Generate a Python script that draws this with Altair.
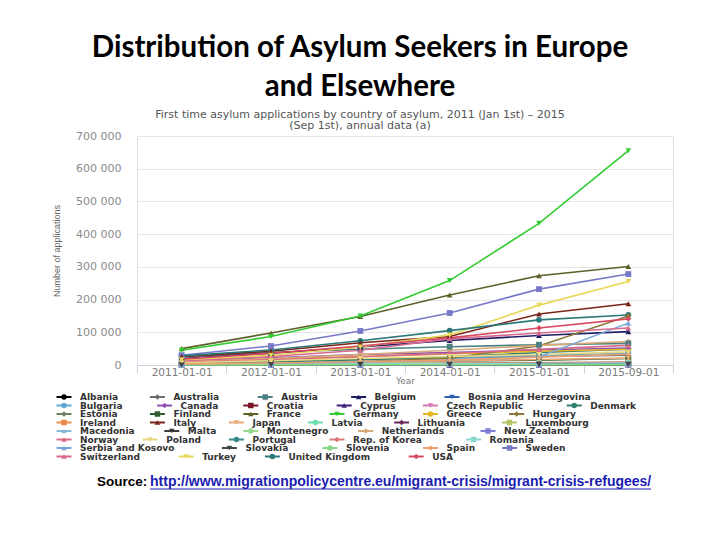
import altair as alt
import pandas as pd

dates = ["2011-01-01", "2012-01-01", "2013-01-01", "2014-01-01", "2015-01-01", "2015-09-01"]

countries = [
    "Albania", "Australia", "Austria", "Belgium", "Bosnia and Herzegovina",
    "Bulgaria", "Canada", "Croatia", "Cyprus", "Czech Republic", "Denmark",
    "Estonia", "Finland", "France", "Germany", "Greece", "Hungary",
    "Ireland", "Italy", "Japan", "Latvia", "Lithuania", "Luxembourg",
    "Macedonia", "Malta", "Montenegro", "Netherlands", "New Zealand",
    "Norway", "Poland", "Portugal", "Rep. of Korea", "Romania",
    "Serbia and Kosovo", "Slovakia", "Slovenia", "Spain", "Sweden",
    "Switzerland", "Turkey", "United Kingdom", "USA",
]

# legend rows as laid out in the reference
legend_rows = [
    ["Albania", "Australia", "Austria", "Belgium", "Bosnia and Herzegovina"],
    ["Bulgaria", "Canada", "Croatia", "Cyprus", "Czech Republic", "Denmark"],
    ["Estonia", "Finland", "France", "Germany", "Greece", "Hungary"],
    ["Ireland", "Italy", "Japan", "Latvia", "Lithuania", "Luxembourg"],
    ["Macedonia", "Malta", "Montenegro", "Netherlands", "New Zealand"],
    ["Norway", "Poland", "Portugal", "Rep. of Korea", "Romania"],
    ["Serbia and Kosovo", "Slovakia", "Slovenia", "Spain", "Sweden"],
    ["Switzerland", "Turkey", "United Kingdom", "USA"],
]

applications = {
    "Albania": [100, 300, 500, 1000, 1500, 2000],
    "Australia": [6000, 12000, 17000, 22000, 26000, 30000],
    "Austria": [25000, 38000, 48000, 56000, 62000, 66000],
    "Belgium": [20000, 36000, 55000, 75000, 90000, 102000],
    "Bosnia and Herzegovina": [100, 200, 300, 400, 500, 600],
    "Bulgaria": [1000, 2000, 9000, 20000, 30000, 36000],
    "Canada": [12000, 22000, 32000, 38000, 46000, 52000],
    "Croatia": [800, 1000, 1100, 1200, 1600, 1800],
    "Cyprus": [1800, 2000, 1300, 1200, 1700, 2100],
    "Czech Republic": [500, 600, 700, 800, 1000, 1200],
    "Denmark": [4000, 9000, 16000, 25000, 38000, 48000],
    "Estonia": [60, 70, 100, 150, 250, 300],
    "Finland": [3000, 6000, 9000, 12000, 15000, 20000],
    "France": [50000, 98000, 148000, 214000, 273000, 301000],
    "Germany": [45000, 87000, 150000, 258000, 433000, 655000],
    "Greece": [9000, 18000, 26000, 34000, 42000, 48000],
    "Hungary": [2000, 4000, 10000, 21000, 58000, 150000],
    "Ireland": [1300, 2200, 3100, 4000, 5500, 7000],
    "Italy": [26000, 42000, 68000, 87000, 156000, 187000],
    "Japan": [1800, 4500, 7800, 12000, 17000, 21000],
    "Latvia": [300, 350, 400, 500, 600, 700],
    "Lithuania": [400, 600, 700, 900, 1100, 1200],
    "Luxembourg": [2100, 4000, 5000, 6000, 7000, 8000],
    "Macedonia": [700, 900, 1100, 1300, 1500, 1800],
    "Malta": [1900, 2100, 2300, 2500, 2800, 3000],
    "Montenegro": [200, 300, 350, 400, 450, 500],
    "Netherlands": [10000, 20000, 32000, 45000, 60000, 72000],
    "New Zealand": [300, 350, 400, 450, 500, 550],
    "Norway": [8000, 16000, 25000, 35000, 48000, 60000],
    "Poland": [7000, 13000, 20000, 26000, 32000, 40000],
    "Portugal": [270, 300, 500, 440, 600, 900],
    "Rep. of Korea": [1000, 2000, 3000, 5000, 7000, 9000],
    "Romania": [1700, 2500, 3300, 4000, 4800, 5600],
    "Serbia and Kosovo": [3000, 6000, 9000, 15000, 25000, 128000],
    "Slovakia": [300, 500, 700, 800, 1000, 1200],
    "Slovenia": [370, 500, 600, 700, 800, 900],
    "Spain": [3400, 6000, 10000, 15000, 24000, 33000],
    "Sweden": [30000, 58000, 104000, 159000, 232000, 278000],
    "Switzerland": [14000, 26000, 45000, 80000, 98000, 113000],
    "Turkey": [16000, 30000, 55000, 92000, 183000, 255000],
    "United Kingdom": [28000, 46000, 74000, 105000, 138000, 153000],
    "USA": [18000, 36000, 58000, 83000, 113000, 141000],
}

colors = [
    "#000000", "#6b6b6b", "#4a8080", "#1e1e64", "#2f5fb3",
    "#5fa8d3", "#8e4fb0", "#7a1326", "#3f1f7f", "#d677b8", "#2f7f6f",
    "#6f7f5f", "#2f5f2f", "#5f5f2a", "#33cc33", "#e6b422", "#8c7a3a",
    "#e88a4c", "#7a2318", "#e8a878", "#66e0a8", "#6a2a5a", "#b4c468",
    "#8bb8d8", "#3c3c3c", "#98d890", "#d8a878", "#8080d8",
    "#d86a8a", "#e8d880", "#3a8a8a", "#d87878", "#88d8d0",
    "#78a8d8", "#404848", "#88d888", "#e8a070", "#7878c8",
    "#d86890", "#e8d858", "#2a7878", "#d84860",
]

marker_cycle = ["circle", "diamond", "square", "triangle-up", "triangle-down"]
shapes = [marker_cycle[i % 5] for i in range(len(countries))]

rows = []
for i, c in enumerate(countries):
    for d, v in zip(dates, applications[c]):
        rows.append({"country": c, "date": d, "value": v, "marker": marker_cycle[i % 5]})
df = pd.DataFrame(rows)

# legend layout (flow layout computed from label lengths, pixels relative to plot origin)
CHAR_W, ITEM_GAP, LEG_X0, LEG_Y0, ROW_H = 7.2, 43, -57, 261, 8.5
leg_rows = []
for r, row in enumerate(legend_rows):
    x = LEG_X0
    for c in row:
        leg_rows.append({"country": c, "tx": x, "sx": x - 16, "lx1": x - 23.5,
                         "lx2": x - 8.5, "ty": LEG_Y0 + r * ROW_H})
        x += len(c) * CHAR_W + ITEM_GAP
leg_df = pd.DataFrame(leg_rows)

x_enc = alt.X(
    "date:N",
    sort=dates,
    bandPosition=0.5,
    scale=alt.Scale(type="band", domain=dates, paddingInner=0, paddingOuter=0),
    axis=alt.Axis(
        title="Year", labelAngle=0, labelFont="DejaVu Sans", labelFontSize=10.5,
        labelColor="#7a7a7a", tickBand="extent", tickSize=8, tickColor="#c8d2e0",
        domainColor="#c8d2e0", labelPadding=-6, titleFont="DejaVu Sans",
        titleFontSize=9, titleColor="#7a7a7a", titleFontWeight="normal",
        titlePadding=-1, grid=False,
    ),
)
y_enc = alt.Y(
    "value:Q",
    scale=alt.Scale(domain=[0, 700000]),
    axis=alt.Axis(
        title="Number of applications", values=list(range(0, 700001, 100000)),
        labelExpr="replace(format(datum.value, ','), ',', ' ')",
        labelFont="DejaVu Sans", labelFontSize=11, labelColor="#8a8a8a",
        ticks=False, domain=False, labelPadding=16, gridColor="#e6e6e6",
        titleFont="Liberation Sans", titleFontSize=9, titleColor="#666666",
        titleFontWeight="normal", titlePadding=14,
    ),
)
color_scale = alt.Scale(domain=countries, range=colors)
color_enc = alt.Color("country:N", scale=color_scale, legend=None)

base = alt.Chart(df)
lines = base.mark_line(strokeWidth=1.6).encode(x=x_enc, y=y_enc, color=color_enc)
point_layers = [
    base.transform_filter(alt.datum.marker == m)
    .mark_point(shape=m, filled=True, size=34, opacity=1)
    .encode(x=x_enc, y=y_enc, color=color_enc)
    for m in marker_cycle
]
main = alt.layer(lines, *point_layers)

lbase = alt.Chart(leg_df)
ly = alt.Y("ty:Q", scale=None, axis=None)
leg_lines = lbase.mark_rule(strokeWidth=2).encode(
    x=alt.X("lx1:Q", scale=None, axis=None), x2="lx2:Q", y=ly, color=color_enc
)
leg_marks = lbase.mark_point(filled=True, size=30, opacity=1).encode(
    x=alt.X("sx:Q", scale=None, axis=None), y=ly, color=color_enc,
    shape=alt.Shape("country:N", scale=alt.Scale(domain=countries, range=shapes), legend=None),
)
leg_text = lbase.mark_text(
    align="left", baseline="middle", font="DejaVu Sans", fontSize=9,
    fontWeight="bold", color="#333333",
).encode(x=alt.X("tx:Q", scale=None, axis=None), y=ly, text="country:N")

one = alt.Data(values=[{}])
src_label = alt.Chart(one).mark_text(
    text="Source:", align="left", baseline="middle", font="Liberation Sans",
    fontSize=13.5, fontWeight="bold", color="#000000",
).encode(x=alt.value(-40), y=alt.value(346))
src_url = alt.Chart(one).mark_text(
    text="http://www.migrationpolicycentre.eu/migrant-crisis/migrant-crisis-refugees/",
    align="left", baseline="middle", font="Liberation Sans", fontSize=14,
    fontWeight="bold", color="#1c1cb0",
).encode(x=alt.value(13), y=alt.value(346))
underline = alt.Chart(one).mark_rule(color="#1c1cb0", strokeWidth=1).encode(
    x=alt.value(13), x2=alt.value(514), y=alt.value(353)
)

chart = alt.layer(main, leg_lines, leg_marks, leg_text, src_label, src_url, underline).resolve_scale(
    x="independent", y="independent"
).properties(
    width=536, height=229,
    padding={"left": 129, "top": 128, "right": 39, "bottom": 167},
    autosize="none",
    title=alt.TitleParams(
        text=["Distribution of Asylum Seekers in Europe", "and Elsewhere"],
        subtitle=["First time asylum applications by country of asylum, 2011 (Jan 1st) \u2013 2015",
                  "(Sep 1st), annual data (a)"],
        font="Lato", fontSize=29.5, fontWeight="bold", color="#000000", lineHeight=39,
        anchor="middle", dx=-45, subtitleFont="DejaVu Sans", subtitleFontSize=11,
        subtitleColor="#555555", subtitleLineHeight=11.5, subtitlePadding=6, offset=-2,
    ),
).configure_view(stroke=None).configure(background="white")

chart.save("out.html", embed_options={"renderer": "svg", "actions": False})
